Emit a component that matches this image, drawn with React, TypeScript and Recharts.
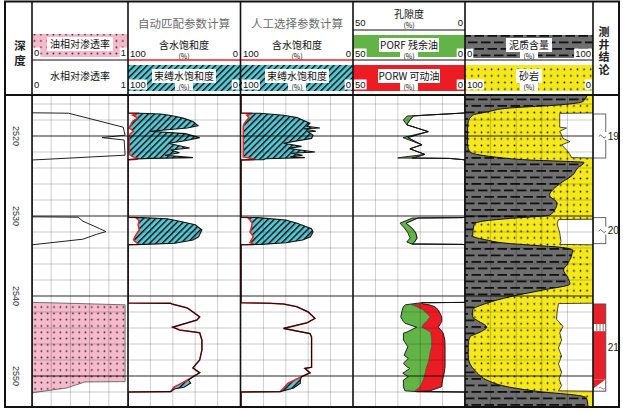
import React from "react";
import { Area, ComposedChart, Line, ReferenceArea, ReferenceLine, XAxis, YAxis } from "recharts";

const CJK = '"Noto Sans CJK SC", "Noto Sans", sans-serif';
const LAT = '"Liberation Sans", Arial, sans-serif';

const TOP = 96;
const H = 310;
const depthDomain = [2515, 2553.75];
const depthLabels = [2520, 2530, 2540, 2550];
const minorDepths = [2516, 2518, 2522, 2524, 2526, 2528, 2532, 2534, 2536, 2538, 2542, 2544, 2546, 2548, 2552];

// 相对渗透率
const relPermDepth = [2515, 2517.1, 2517.15, 2518.9, 2519.9, 2520.2, 2520.5, 2522.4, 2523.0, 2530.1, 2530.15, 2530.65, 2531.55, 2531.95, 2532.3, 2532.9, 2533.6, 2540.8, 2540.85, 2541.1, 2550.7, 2550.75, 2551.5, 2552.1, 2553.75];
const waterRelPerm = [0, 0, 0.38, 0.95, 0.97, 0.73, 0.96, 0.97, 0, 0, 0.48, 0.53, 0.7, 0.77, 0.67, 0.53, 0, 0, 0, 0, 0, 0, 0, 0, 0];
const oilRelPerm = [0, 0, 0, 0, 0, 0, 0, 0, 0, 0, 0, 0, 0, 0, 0, 0, 0, 0, 0.2, 0.97, 0.97, 0.55, 0.36, 0, 0];

// 自动匹配参数计算
const autoDepth = [2515, 2517.12, 2517.16, 2517.25, 2517.4, 2517.6, 2517.8, 2518.2, 2518.7, 2519.0, 2519.4, 2519.7, 2520.2, 2520.6, 2520.9, 2521.5, 2521.75, 2522.1, 2522.4, 2522.7, 2522.8, 2522.9, 2523.0,
  2530.15, 2530.2, 2530.35, 2530.6, 2531.1, 2531.75, 2532.6, 2533.0, 2533.4, 2533.55, 2533.6,
  2540.88, 2540.92, 2541.0, 2541.5, 2542.6, 2543.0, 2543.9, 2544.25, 2544.6, 2545.5, 2546.75, 2548.0, 2548.4, 2549.0, 2549.6, 2550.1, 2550.5, 2550.9, 2551.4, 2551.6, 2551.95, 2552.0, 2553.75];
const autoSwi = [100, 100, 89, 71, 63, 56, 50, 42, 37.5, 47, 80, 49, 36, 49, 64, 45, 62, 54, 67, 42, 80, 98, 100,
  100, 88, 65, 56, 40, 34, 37, 42, 58, 85, 100,
  100, 62, 60.7, 47, 36, 38.5, 60, 54, 36, 34, 34, 36, 38.5, 42, 36, 42, 46, 44, 50, 58, 62, 100, 100];
const autoSw = [100, 100, 90, 93, 96, 93, 92, 96, 98, 99, 95, 98, 99, 99, 99, 99, 99, 99, 98, 94, 91, 92, 100,
  100, 93, 92, 90, 91, 90, 94, 95, 92, 90, 100,
  100, 62, 60.7, 47, 36, 38.5, 60, 54, 36, 34, 34, 36, 38.5, 42, 36, 42, 47, 52, 59, 60, 62, 100, 100];

// 人工选择参数计算
const manualDepth = [2515, 2517.12, 2517.16, 2517.4, 2517.7, 2518.4, 2518.8, 2519.0, 2519.1, 2519.4, 2519.5, 2519.9, 2520.3, 2520.9, 2521.3, 2521.55, 2521.75, 2522.0, 2522.15, 2522.4, 2522.6, 2522.7, 2522.85, 2522.95, 2523.0,
  2530.15, 2530.2, 2530.5, 2530.9, 2531.6, 2532.0, 2532.6, 2533.0, 2533.35, 2533.55, 2533.6,
  2540.85, 2540.9, 2541.0, 2541.35, 2542.0, 2542.8, 2543.35, 2544.05, 2544.7, 2545.1, 2548.9, 2549.05, 2549.6, 2550.1, 2550.5, 2550.9, 2551.5, 2551.95, 2552.0, 2553.75];
const manualSwi = [100, 100, 83, 62, 50, 38.5, 41, 29.5, 44, 33, 40, 35.7, 37, 62, 46, 58, 47, 34, 55, 45, 56, 43, 78, 80, 100,
  100, 85, 60, 50, 37, 35.7, 38, 45, 60, 82, 100,
  100, 75, 62, 50, 40, 34, 41, 62, 38.4, 37, 37, 43, 38.4, 46, 47, 47, 53, 65, 100, 100];
const manualSw = [100, 100, 90, 95, 93, 97, 98, 98, 98, 98, 98, 98, 98, 98, 98, 98, 98, 98, 98, 98, 98, 95, 90, 88, 100,
  100, 94, 92, 90, 91, 92, 89, 91, 92, 88, 100,
  100, 75, 62, 50, 40, 34, 41, 62, 38.4, 37, 37, 43, 38.4, 46, 52, 58, 62, 65, 100, 100];

// 孔隙度
const porDepth = [2515, 2517.12, 2517.16, 2517.4, 2517.5, 2518.0, 2518.6, 2519.45, 2520.2, 2521.1, 2521.6, 2522.3, 2522.65, 2522.75, 2522.8, 2522.95, 2523.0,
  2530.15, 2530.2, 2530.25, 2530.9, 2531.5, 2532.1, 2532.75, 2533.25, 2533.5, 2533.55, 2533.6,
  2540.8, 2540.84, 2541.0, 2541.1, 2541.33, 2541.75, 2542.6, 2543.2, 2543.4, 2543.9, 2544.45, 2544.65, 2545.5, 2546.35, 2547.15, 2547.4, 2547.8, 2548.4, 2548.85, 2549.05, 2549.65, 2550.1, 2550.5, 2551.35, 2551.85, 2551.95, 2552.0, 2553.75];
const porTotal = [0, 0, 2.5, 18, 25.8, 27.5, 26, 16.4, 27.7, 19.3, 24.6, 17.9, 28, 30, 7, 1, 0,
  0, 1, 23.5, 29, 27, 25.5, 24.5, 26, 23.7, 1, 0,
  0, 19.3, 24, 26.5, 27.5, 28, 28.7, 27.5, 26.8, 21.6, 25.5, 27.5, 27.5, 25.5, 26.8, 27.2, 25.3, 27.5, 26, 24.6, 27.8, 25.3, 27.5, 27.5, 26.8, 21.6, 0, 0];
const porResidual = [0, 0, 2.5, 18, 23, 24.6, 26, 16.4, 25.5, 19.3, 24.6, 17.9, 22, 23.5, 7, 1, 0,
  0, 1, 21, 26.3, 23.7, 22, 21.4, 22.5, 23.7, 1, 0,
  0, 19.3, 20, 23.8, 21.5, 18.6, 15.6, 17.1, 18.2, 19.3, 15.6, 15.2, 14.9, 14.9, 15.6, 15.8, 16, 16.5, 17.1, 17.3, 17.8, 18.2, 18.6, 20.1, 22.3, 21.6, 0, 0];
const porMovable = [0, 0, 2.5, 18, 23, 24.6, 26, 16.4, 25.5, 19.3, 24.6, 17.9, 22, 23.5, 7, 1, 0,
  0, 1, 21, 26.3, 23.7, 22, 21.4, 22.5, 23.7, 1, 0,
  0, 19.3, 18.6, 16, 13.5, 11.9, 10.4, 10.4, 10.8, 11.9, 10.2, 9.7, 9.0, 8.9, 8.9, 8.9, 8.9, 8.9, 8.9, 9.0, 9.3, 9.7, 10.0, 10.4, 15.6, 21.6, 0, 0];

// 泥质含量 / 砂岩
const shaleDepth = [2515.0, 2515.7, 2516.1, 2516.5, 2517.0, 2517.4, 2518.25, 2519.25, 2521.1, 2522.0, 2522.6, 2523.0, 2523.3, 2524.0, 2524.9, 2525.75, 2526.5, 2527.4, 2528.4, 2529.25, 2529.9, 2530.3, 2530.7, 2531.1, 2532.5, 2533.0, 2533.4, 2533.6, 2533.9, 2534.25, 2535.1, 2536.0, 2536.75, 2537.6, 2538.5, 2539.25, 2540.1, 2540.9, 2541.75, 2542.6, 2543.1, 2543.9, 2544.5, 2545.1, 2546.1, 2547.6, 2548.9, 2549.6, 2550.5, 2551.4, 2552.0, 2552.4, 2552.75, 2553.75];
const shaleContent = [95, 92, 75, 35, 17, 6, 2.5, 2, 2, 4, 22, 50, 93, 88, 84, 76, 70, 66, 72, 70, 66, 35, 12, 7, 6, 17, 32, 48, 74, 84, 83, 80, 77, 80, 82, 61, 35, 17, 6, 6, 10, 17, 12, 4, 2.5, 2.5, 5.5, 9.4, 17, 35, 61, 87, 95, 96];
const sandDepth = [2515, 2517.12, 2517.17, 2518.9, 2519.0, 2519.4, 2520.3, 2520.7, 2521.1, 2521.95, 2522.6, 2522.7, 2522.75, 2530.4, 2530.45, 2531.0, 2532.1, 2533.2, 2533.55, 2533.6, 2540.9, 2540.95, 2542.0, 2542.9, 2543.8, 2544.6, 2545.5, 2546.5, 2547.5, 2548.5, 2549.5, 2550.4, 2551.2, 2551.85, 2551.9, 2553.75];
const sandEdge = [100, 100, 74, 74, 79.4, 74, 76.6, 82, 75.5, 80.5, 83, 83, 100, 100, 73, 72, 74, 75, 74, 100, 100, 73, 72, 71.5, 76.6, 74, 75.5, 73, 75.5, 73, 75.5, 73.5, 75.5, 73, 100, 100];

// 测井结论
const conclusionZones = [
  { top: 2517.25, bottom: 2522.75, label: "19", kind: "water" },
  { top: 2530.2, bottom: 2533.45, label: "20", kind: "water" },
  { top: 2541.0, bottom: 2551.9, label: "21", kind: "oil" },
];
const oilZoneParts = [
  { top: 2541.0, bottom: 2543.5, kind: "oil" },
  { top: 2543.5, bottom: 2544.4, kind: "dry" },
  { top: 2544.4, bottom: 2550.4, kind: "oil" },
  { top: 2550.4, bottom: 2551.9, kind: "oilWater" },
];

const relPermRows = relPermDepth.map((depth, i) => ({ depth, krw: waterRelPerm[i], kro: oilRelPerm[i] }));
const autoRows = autoDepth.map((depth, i) => ({ depth, sw: autoSw[i], swi: autoSwi[i] }));
const manualRows = manualDepth.map((depth, i) => ({ depth, sw: manualSw[i], swi: manualSwi[i] }));
const porRows = porDepth.map((depth, i) => ({ depth, tot: porTotal[i], res: porResidual[i], mov: porMovable[i] }));
const shaleRows = shaleDepth.map((depth, i) => ({ depth, vsh: shaleContent[i] }));
const sandRows = sandDepth.map((depth, i) => ({ depth, edge: sandEdge[i] }));

const zero = { top: 0, right: 0, bottom: 0, left: 0 };

function Track({ left, width, data, domain, reversed, ticks, children }: any) {
  return (
    <div style={{ position: "absolute", left, top: TOP }}>
      <ComposedChart width={width} height={H} data={data} layout="vertical" margin={zero}>
        <XAxis type="number" domain={domain} reversed={reversed} hide allowDataOverflow />
        <YAxis type="number" dataKey="depth" domain={depthDomain} hide allowDataOverflow />
        {children}
        {ticks.map((v: number) => (
          <ReferenceLine key={"v" + v} x={v} stroke="#000" strokeOpacity={0.2} strokeWidth={1} />
        ))}
        {minorDepths.map((d) => (
          <ReferenceLine key={"h" + d} y={d} stroke="#000" strokeOpacity={0.2} strokeWidth={1} />
        ))}
        {depthLabels.map((d) => (
          <ReferenceLine key={"t" + d} y={d} stroke="#000" strokeOpacity={0.42} strokeWidth={2} />
        ))}
      </ComposedChart>
    </div>
  );
}

function SatTrack({ left, rows }: any) {
  return (
    <Track left={left} width={112} data={rows} domain={[0, 100]} reversed ticks={[20, 40, 60, 80]}>
      <Area type="linear" dataKey={(r: any) => [r.sw, r.swi]} fill="url(#hatch)" fillOpacity={1} stroke="none" isAnimationActive={false} />
      <Line type="linear" dataKey="sw" stroke="#e8262a" strokeWidth={1.5} dot={false} isAnimationActive={false} />
      <Line type="linear" dataKey="swi" stroke="#111" strokeWidth={1.1} dot={false} isAnimationActive={false} />
    </Track>
  );
}

function DepthTick(props: any) {
  const { y, payload } = props;
  return (
    <text x={10.5} y={y} transform={`rotate(90 10.5 ${y})`} textAnchor="middle" dominantBaseline="central" fontSize={9} fontFamily={LAT} fill="#333">
      {payload.value}
    </text>
  );
}

function zoneShape(kind: string) {
  return (p: any) => {
    const { x, y, width, height } = p;
    const r = x + width;
    const cy = y + height / 2;
    if (kind === "water") {
      return (
        <g>
          <rect x={x} y={y} width={width} height={height} fill="#fff" stroke="#666" strokeWidth={1} />
          <rect x={r - 1.5} y={cy - 4} width={3} height={8} fill="#fff" />
          <path d={`M${r - 7},${cy + 0.5} q1.8,-3 3.6,0 t3.6,0`} fill="none" stroke="#555" strokeWidth={0.9} />
        </g>
      );
    }
    if (kind === "oil") return <rect x={x} y={y} width={width} height={height} fill="#e8202a" />;
    if (kind === "dry") {
      return (
        <g>
          <rect x={x} y={y} width={width} height={height} fill="#fff" />
          {[0.3, 0.55, 0.8].map((f) => (
            <line key={f} x1={x + width * f} x2={x + width * f} y1={y} y2={y + height} stroke="#555" strokeWidth={0.8} />
          ))}
        </g>
      );
    }
    if (kind === "oilWater") {
      return (
        <g>
          <rect x={x} y={y} width={width} height={height} fill="#fff" />
          <polygon points={`${x},${y} ${r},${y} ${x},${y + height * 0.8}`} fill="#e8202a" />
          <path d={`M${r - 7},${y + height - 3} q1.5,-2 3,0 t3,0`} fill="none" stroke="#555" strokeWidth={0.7} />
        </g>
      );
    }
    return <rect x={x} y={y} width={width} height={height} fill="none" stroke="#555" strokeWidth={1} />;
  };
}

function Num({ x, y, t, end, box }: any) {
  const w = t.length * 5.3 + 2;
  return (
    <g>
      {box && <rect x={end ? x - w + 1 : x - 1} y={y - 5} width={w} height={10} fill="#fff" />}
      <text x={x} y={y} textAnchor={end ? "end" : "start"} dominantBaseline="central" fontSize={9.5} fontFamily={LAT} fill="#111">
        {t}
      </text>
    </g>
  );
}

function LegendRow({ x, w, top, barY, barH, fill, label, labelW, unit = true, left, right }: any) {
  const cx = x + w / 2;
  const box = !!fill;
  return (
    <g>
      {fill && <rect x={x} y={barY} width={w} height={barH} fill={fill} />}
      {box && <rect x={cx - labelW / 2} y={top + 3} width={labelW} height={14} fill="#fff" />}
      <text x={cx} y={top + 9.5} textAnchor="middle" dominantBaseline="central" fontSize={10} fontFamily={CJK} fill="#111">
        {label}
      </text>
      {unit && box && <rect x={cx - 9} y={top + 16.5} width={18} height={8} fill="#fff" />}
      {unit && (
        <text x={cx} y={top + 20.8} textAnchor="middle" dominantBaseline="central" fontSize={7} fontFamily={CJK} fill="#111">
          (%)
        </text>
      )}
      <Num x={x + 2} y={top + 18.5} t={left} box={box} />
      <Num x={x + w - 2} y={top + 18.5} t={right} end box={box} />
    </g>
  );
}

function Header() {
  return (
    <svg width={623} height={413} style={{ position: "absolute", left: 0, top: 0 }}>
      <defs>
        <pattern id="oilDots" width="6.3" height="6.3" patternUnits="userSpaceOnUse">
          <rect width="6.3" height="6.3" fill="#f6bacb" />
          <circle cx="3.1" cy="3.1" r="0.85" fill="#222" />
        </pattern>
        <pattern id="sandDots" width="6.6" height="6.6" patternUnits="userSpaceOnUse">
          <rect width="6.6" height="6.6" fill="#f5e81c" />
          <circle cx="3.3" cy="3.3" r="0.85" fill="#111" />
        </pattern>
        <pattern id="shaleDash" width="13" height="13" patternUnits="userSpaceOnUse">
          <rect width="13" height="13" fill="#6f6f6f" />
          <rect x="0" y="2.5" width="9.5" height="1.8" fill="#111" />
          <rect x="6.5" y="9" width="6.5" height="1.8" fill="#111" />
          <rect x="0" y="9" width="3" height="1.8" fill="#111" />
        </pattern>
        <pattern id="hatch" width="4.4" height="4.4" patternUnits="userSpaceOnUse" patternTransform="rotate(45)">
          <rect width="4.4" height="4.4" fill="#58c6d2" />
          <rect width="1.4" height="4.4" fill="#111" />
        </pattern>
      </defs>
      <rect width={623} height={413} fill="#fff" />

      {/* 深度 */}
      <text x={20} y={45} textAnchor="middle" dominantBaseline="central" fontSize={11.5} fontWeight={700} fontFamily={CJK} fill="#222">深</text>
      <text x={20} y={60} textAnchor="middle" dominantBaseline="central" fontSize={11.5} fontWeight={700} fontFamily={CJK} fill="#222">度</text>

      {/* 相对渗透率 */}
      <LegendRow x={32} w={96} top={34} barY={34} barH={23} fill="url(#oilDots)" label="油相对渗透率" labelW={66} unit={false} left="0" right="1" />
      <LegendRow x={32} w={96} top={66} label="水相对渗透率" unit={false} left="0" right="1" />

      {/* 自动匹配 */}
      <text x={184} y={23} textAnchor="middle" dominantBaseline="central" fontSize={11.5} fontFamily={CJK} fill="#6b6b6b">自动匹配参数计算</text>
      <LegendRow x={128} w={112} top={35} label="含水饱和度" left="100" right="0" />
      <LegendRow x={128} w={112} top={66} barY={65} barH={26} fill="url(#hatch)" label="束缚水饱和度" labelW={64} left="100" right="0" />

      {/* 人工选择 */}
      <text x={297} y={23} textAnchor="middle" dominantBaseline="central" fontSize={11.5} fontFamily={CJK} fill="#6b6b6b">人工选择参数计算</text>
      <LegendRow x={241} w={112} top={35} label="含水饱和度" left="100" right="0" />
      <LegendRow x={241} w={112} top={66} barY={65} barH={26} fill="url(#hatch)" label="束缚水饱和度" labelW={64} left="100" right="0" />

      {/* 孔隙度 */}
      <LegendRow x={353} w={112} top={4} label="孔隙度" left="50" right="0" />
      <LegendRow x={353} w={112} top={35} barY={35} barH={22} fill="#62b446" label="PORF 残余油" labelW={60} left="50" right="0" />
      <LegendRow x={353} w={112} top={66} barY={65} barH={26} fill="#ec1c24" label="PORW 可动油" labelW={62} left="50" right="0" />

      {/* 岩性 */}
      <LegendRow x={465} w={128} top={35} barY={35} barH={23} fill="url(#shaleDash)" label="泥质含量" labelW={46} left="0" right="100" />
      <LegendRow x={465} w={128} top={66} barY={65} barH={26} fill="url(#sandDots)" label="砂岩" labelW={26} left="100" right="0" />

      {/* 测井结论 */}
      <text x={604} y={26.5} style={{ writingMode: "vertical-rl" }} letterSpacing={1.5} fontSize={11} fontWeight={700} fontFamily={CJK} fill="#222">
        测井结论
      </text>
    </svg>
  );
}

function Frame() {
  const dividers = [32, 128, 240.5, 353, 465, 593];
  return (
    <svg width={623} height={413} style={{ position: "absolute", left: 0, top: 0, pointerEvents: "none" }}>
      <line x1={32} x2={128} y1={60} y2={60} stroke="#111" strokeWidth={1} />
      <line x1={128} x2={353} y1={60} y2={60} stroke="#e8262a" strokeWidth={1.4} />
      <line x1={353} x2={593} y1={60} y2={60} stroke="#111" strokeWidth={1} />
      <line x1={353} x2={465} y1={30} y2={30} stroke="#111" strokeWidth={1} />
      <line x1={5} x2={619} y1={95} y2={95} stroke="#111" strokeWidth={2} />
      {dividers.map((x) => (
        <line key={x} x1={x} x2={x} y1={1.5} y2={407} stroke="#111" strokeWidth={1.6} />
      ))}
      <rect x={5} y={1.5} width={614} height={405.5} fill="none" stroke="#111" strokeWidth={2} />
    </svg>
  );
}

export default function App() {
  return (
    <div style={{ position: "absolute", left: 0, top: 0, width: 623, height: 413, background: "#fff", overflow: "hidden" }}>
      <Header />

      {/* 深度 */}
      <div style={{ position: "absolute", left: 5, top: TOP }}>
        <ComposedChart width={27} height={H} data={depthLabels.map((depth) => ({ depth }))} layout="vertical" margin={zero}>
          <XAxis type="number" domain={[0, 1]} hide allowDataOverflow />
          <YAxis type="number" dataKey="depth" domain={depthDomain} ticks={depthLabels} interval={0} width={20} axisLine={false} tickLine={false} tick={DepthTick} allowDataOverflow />
        </ComposedChart>
      </div>

      {/* 相对渗透率 */}
      <Track left={32} width={96} data={relPermRows} domain={[0, 1]} ticks={[0.2, 0.4, 0.6, 0.8]}>
        <Area type="linear" dataKey={(r: any) => [0, r.kro]} fill="url(#oilDots)" fillOpacity={1} stroke="none" isAnimationActive={false} />
        <Line type="linear" dataKey="kro" stroke="#555" strokeWidth={0.8} dot={false} isAnimationActive={false} />
        <Line type="linear" dataKey="krw" stroke="#222" strokeWidth={1} dot={false} isAnimationActive={false} />
      </Track>

      <SatTrack left={128} rows={autoRows} />
      <SatTrack left={241} rows={manualRows} />

      {/* 孔隙度 */}
      <Track left={353} width={112} data={porRows} domain={[0, 50]} reversed ticks={[10, 20, 30, 40]}>
        <Area type="linear" dataKey={(r: any) => [r.res, r.tot]} fill="#62b446" fillOpacity={1} stroke="none" isAnimationActive={false} />
        <Area type="linear" dataKey={(r: any) => [r.mov, r.res]} fill="#ec1c24" fillOpacity={1} stroke="none" isAnimationActive={false} />
        <Line type="linear" dataKey="res" stroke="#333" strokeWidth={0.6} dot={false} isAnimationActive={false} />
        <Line type="linear" dataKey="tot" stroke="#111" strokeWidth={0.9} dot={false} isAnimationActive={false} />
        <Line type="linear" dataKey="mov" stroke="#111" strokeWidth={0.9} dot={false} isAnimationActive={false} />
      </Track>

      {/* 岩性 */}
      <Track left={465} width={128} domain={[0, 100]} ticks={[20, 40, 60, 80]}>
        <Area data={sandRows} type="linear" dataKey={(r: any) => [0, r.edge]} fill="url(#sandDots)" fillOpacity={1} stroke="none" isAnimationActive={false} />
        <Area data={shaleRows} type="monotone" dataKey={(r: any) => [0, r.vsh]} fill="url(#shaleDash)" fillOpacity={1} stroke="none" isAnimationActive={false} />
        <Line data={sandRows} type="linear" dataKey="edge" stroke="#222" strokeWidth={0.8} dot={false} isAnimationActive={false} />
        <Line data={shaleRows} type="monotone" dataKey="vsh" stroke="#111" strokeWidth={1} dot={false} isAnimationActive={false} />
      </Track>

      {/* 测井结论 */}
      <div style={{ position: "absolute", left: 593, top: TOP }}>
        <ComposedChart width={26} height={H} data={conclusionZones} layout="vertical" margin={zero}>
          <XAxis type="number" domain={[0, 1]} hide allowDataOverflow />
          <YAxis type="number" dataKey="top" domain={depthDomain} hide allowDataOverflow />
          {oilZoneParts.map((p) => (
            <ReferenceArea key={p.top} x1={0} x2={0.49} y1={p.top} y2={p.bottom} shape={zoneShape(p.kind)} ifOverflow="visible" />
          ))}
          {conclusionZones.map((z) => (
            <ReferenceArea
              key={z.label}
              x1={0}
              x2={0.49}
              y1={z.top}
              y2={z.bottom}
              shape={zoneShape(z.kind === "water" ? "water" : "outline")}
              label={{ value: z.label, position: "right", offset: 2, fontSize: 10, fill: "#222", fontFamily: LAT }}
              ifOverflow="visible"
            />
          ))}
        </ComposedChart>
      </div>

      <Frame />
    </div>
  );
}
